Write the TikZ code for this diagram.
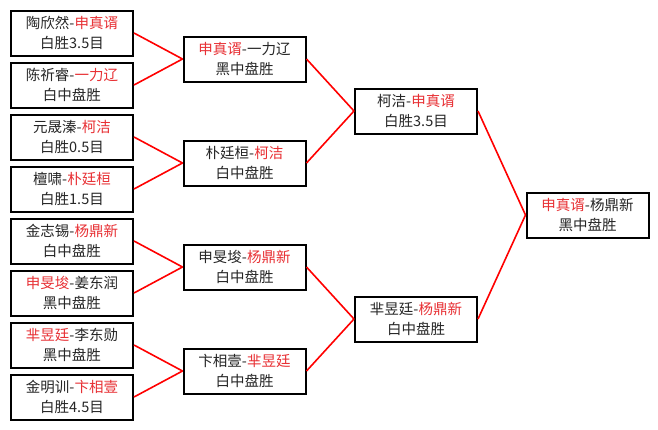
\documentclass[tikz,border=0pt]{standalone}
\usepackage{fontspec}
\setmainfont{Noto Sans CJK SC}
\usepackage{tikz}
\usetikzlibrary{positioning}
\definecolor{winred}{RGB}{232,48,52}
\tikzset{game/.style = {draw, line width=2pt, fill=white, align=center,
    minimum width=122pt, minimum height=45pt, inner sep=0pt,
    font=\fontsize{14.5}{20}\selectfont, text=black!85}}
\tikzset{line/.style = {draw, red, line width=1.6pt}}
\newcommand{\win}[1]{\textcolor{winred}{#1}}

\begin{document}
\begin{tikzpicture}[x=1pt, y=-1pt]
    \useasboundingbox [fill=white] (0,0) rectangle (658,429);
    % First round
    \node [game] at (72,33) (a1) {陶欣然-\win{申真谞}\\白胜3.5目};
    \node [game] at (72,85) (a2) {陈祈睿-\win{一力辽}\\白中盘胜};
    \node [game] at (72,137) (a3) {元晟溱-\win{柯洁}\\白胜0.5目};
    \node [game] at (72,189) (a4) {檀啸-\win{朴廷桓}\\白胜1.5目};
    \node [game] at (72,241) (a5) {金志锡-\win{杨鼎新}\\白中盘胜};
    \node [game] at (72,293) (a6) {\win{申旻埈}-姜东润\\黑中盘胜};
    \node [game] at (72,345) (a7) {\win{芈昱廷}-李东勋\\黑中盘胜};
    \node [game] at (72,397) (a8) {金明训-\win{卞相壹}\\白胜4.5目};
    % Second round
    \node [game] at (244.5,59) (b1) {\win{申真谞}-一力辽\\黑中盘胜};
    \node [game] at (244.5,163) (b2) {朴廷桓-\win{柯洁}\\白中盘胜};
    \node [game] at (244.5,267) (b3) {申旻埈-\win{杨鼎新}\\白中盘胜};
    \node [game] at (244.5,371) (b4) {卞相壹-\win{芈昱廷}\\白中盘胜};
    % Semi-finals
    \node [game] at (416,111) (c1) {柯洁-\win{申真谞}\\白胜3.5目};
    \node [game] at (416,319) (c2) {芈昱廷-\win{杨鼎新}\\白中盘胜};
    % Final
    \node [game] at (587.5,215) (d1) {\win{申真谞}-杨鼎新\\黑中盘胜};
    %% Flows
    \path [line] (a1.east) -- (b1.west);
    \path [line] (a2.east) -- (b1.west);
    \path [line] (a3.east) -- (b2.west);
    \path [line] (a4.east) -- (b2.west);
    \path [line] (a5.east) -- (b3.west);
    \path [line] (a6.east) -- (b3.west);
    \path [line] (a7.east) -- (b4.west);
    \path [line] (a8.east) -- (b4.west);
    \path [line] (b1.east) -- (c1.west);
    \path [line] (b2.east) -- (c1.west);
    \path [line] (b3.east) -- (c2.west);
    \path [line] (b4.east) -- (c2.west);
    \path [line] (c1.east) -- (d1.west);
    \path [line] (c2.east) -- (d1.west);
\end{tikzpicture}
\end{document}
